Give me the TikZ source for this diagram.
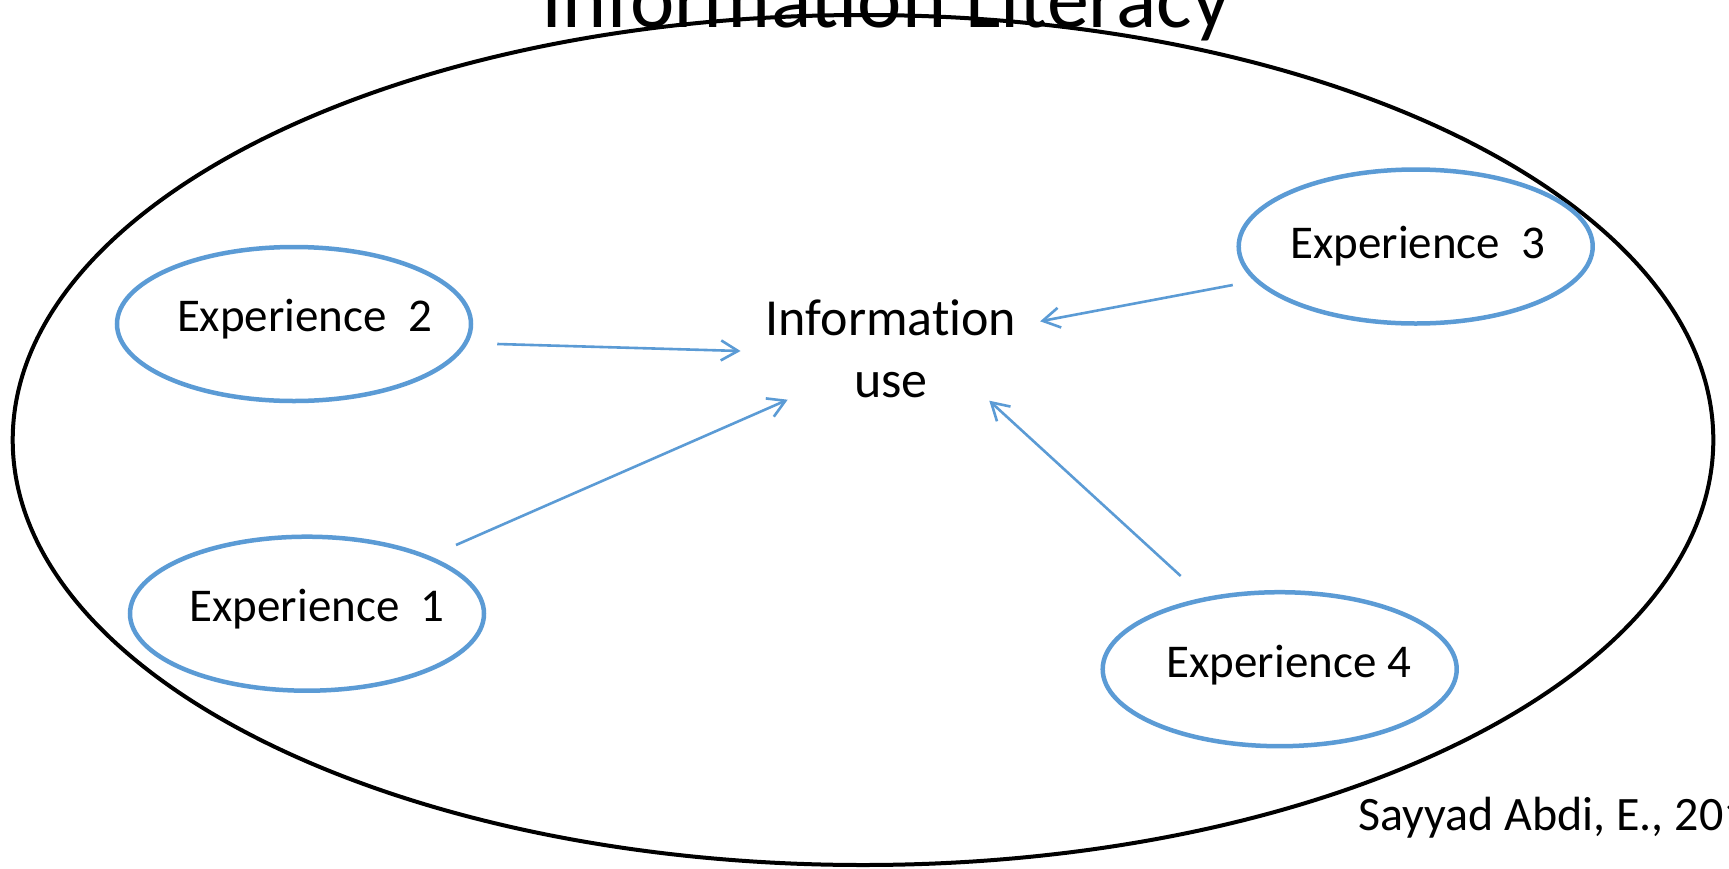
\documentclass[tikz,border=0pt]{standalone}
\usepackage{fontspec}
\setmainfont{Carlito}[Ligatures={NoCommon}]
\usetikzlibrary{shapes.geometric,arrows.meta}
\definecolor{expblue}{HTML}{5B9BD5}
\tikzset{
  expnode/.style={ellipse, draw=expblue, line width=4.5pt, inner sep=0pt,
    minimum width=354pt, minimum height=154pt},
  exptext/.style={inner sep=0pt, font=\fontsize{47pt}{56pt}\selectfont},
  linkarrow/.style={draw=expblue, line width=2.6pt,
    -{Straight Barb[length=17pt,width=20pt]}},
}
\begin{document}
\begin{tikzpicture}[x=1pt,y=-1pt]
\useasboundingbox (0,0) rectangle (1729,868);
\clip (0,0) rectangle (1729,868);
\fill[white] (0,0) rectangle (1729,868);
% outer ellipse
\node[ellipse, draw=black, line width=4pt, inner sep=0pt,
      minimum width=1700.6pt, minimum height=850pt] (outer) at (863,440) {};
% title (cut off at top in the original)
\node[anchor=base, inner sep=0pt, font=\fontsize{84pt}{100pt}\selectfont] (title) at (886,27) {Information Literacy};
% central node
\node[align=center, inner sep=0pt, font=\fontsize{52pt}{62pt}\selectfont] (info) at (891,349) {Information\\use};
% experiences
\node[expnode, label={[exptext, xshift=10.5pt, yshift=5pt]center:Experience\ \ 2}] (e2) at (294,324) {};
\node[expnode, label={[exptext, xshift=10pt, yshift=5pt]center:Experience\ \ 1}] (e1) at (307,613.7) {};
\node[expnode, label={[exptext, xshift=2pt, yshift=0pt]center:Experience\ \ 3}] (e3) at (1415.7,246.5) {};
\node[expnode, label={[exptext, xshift=9pt, yshift=4pt]center:Experience 4}] (e4) at (1279.7,669.2) {};
% arrows
\draw[linkarrow] ([shift={(24,20)}]e2.east) -- ([shift={(-25,2)}]info.west);
\draw[linkarrow] ([shift={(149,-68.7)}]e1.center) -- ([shift={(-103.3,50.7)}]info.center);
\draw[linkarrow] ([shift={(-3.7,38.5)}]e3.west) -- ([shift={(23.7,-27.7)}]info.east);
\draw[linkarrow] ([shift={(-99,-93.2)}]e4.center) -- ([shift={(98.3,51.7)}]info.center);
% citation (cut off at right in the original)
\node[anchor=base west, inner sep=0pt, font=\fontsize{48pt}{58pt}\selectfont] (cite) at (1358,830) {Sayyad Abdi, E., 2014};
\end{tikzpicture}
\end{document}
